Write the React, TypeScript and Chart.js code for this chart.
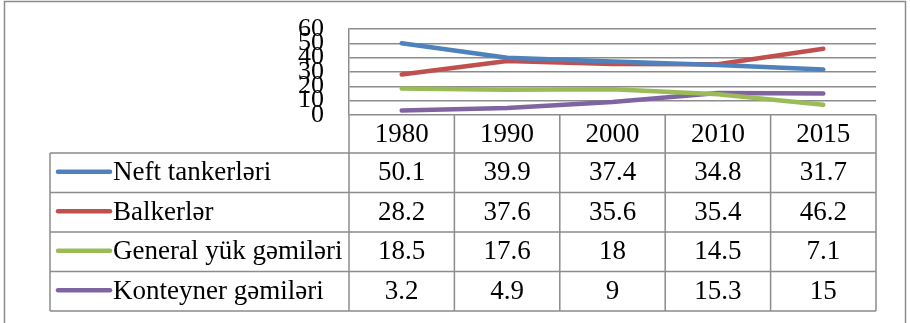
import React, { useEffect, useRef } from "react";
import { Chart, registerables } from "chart.js";

Chart.register(...registerables);

// Years along the horizontal axis
const years = ["1980", "1990", "2000", "2010", "2015"];

// Fleet share by ship type (%)
const neftTankerleri = [50.1, 39.9, 37.4, 34.8, 31.7];
const balkerler = [28.2, 37.6, 35.6, 35.4, 46.2];
const generalYuk = [18.5, 17.6, 18, 14.5, 7.1];
const konteyner = [3.2, 4.9, 9, 15.3, 15];

const seriesNames = [
  "Neft tankerləri",
  "Balkerlər",
  "General yük gəmiləri",
  "Konteyner gəmiləri",
];
const seriesValues = [neftTankerleri, balkerler, generalYuk, konteyner];
const seriesColors = ["#4F81BD", "#C0504D", "#9BBB59", "#8064A2"];

const yTicks = { min: 0, max: 60, step: 10 };

const FONT_FAMILY = "'Liberation Serif', 'Times New Roman', serif";
const FONT_SIZE = 27;
const LINE_GRAY = "#8c8c8c";

// Data table drawn under the plot, aligned to the category scale
const dataTablePlugin = {
  id: "dataTable",
  afterDraw(chart: any) {
    const { ctx, chartArea, scales } = chart;
    const x = scales.x;
    const n = years.length;
    const colW = (chartArea.right - chartArea.left) / n;
    const headerTop = chartArea.bottom;
    const headerBottom = headerTop + 38;
    const rowH = 39.5;
    const tableLeft = 50;
    const tableBottom = headerBottom + rowH * seriesNames.length;

    ctx.save();
    // outer frame
    ctx.strokeStyle = LINE_GRAY;
    ctx.lineWidth = 1.5;
    ctx.strokeRect(4.5, 1.5, 901, 340);

    // column separators through header and body
    ctx.beginPath();
    for (let i = 0; i <= n; i++) {
      const xx = chartArea.left + i * colW;
      ctx.moveTo(xx, headerTop);
      ctx.lineTo(xx, tableBottom);
    }
    // horizontal lines of body rows
    for (let r = 0; r <= seriesNames.length; r++) {
      const yy = headerBottom + r * rowH;
      ctx.moveTo(tableLeft, yy);
      ctx.lineTo(chartArea.right, yy);
    }
    ctx.moveTo(tableLeft, headerBottom);
    ctx.lineTo(tableLeft, tableBottom);
    ctx.stroke();

    ctx.fillStyle = "#000";
    ctx.font = `${FONT_SIZE}px ${FONT_FAMILY}`;
    ctx.textBaseline = "middle";

    // year labels
    ctx.textAlign = "center";
    years.forEach((yr, i) => {
      ctx.fillText(yr, x.getPixelForValue(i), (headerTop + headerBottom) / 2 + 1);
    });

    // body rows: legend key, name, values
    seriesNames.forEach((name, r) => {
      const cy = headerBottom + r * rowH + rowH / 2 + 0.5;
      ctx.strokeStyle = seriesColors[r];
      ctx.lineWidth = 4.5;
      ctx.lineCap = "round";
      ctx.beginPath();
      ctx.moveTo(58, cy - 1.5);
      ctx.lineTo(110, cy - 1.5);
      ctx.stroke();

      ctx.textAlign = "left";
      ctx.fillText(name, 113, cy);

      ctx.textAlign = "center";
      seriesValues[r].forEach((v, i) => {
        ctx.fillText(String(v), x.getPixelForValue(i), cy);
      });
    });
    ctx.restore();
  },
};

export default function App() {
  const canvasRef = useRef<HTMLCanvasElement | null>(null);

  useEffect(() => {
    const canvas = canvasRef.current;
    if (!canvas) return;
    const chart = new Chart(canvas, {
      type: "line",
      data: {
        labels: years,
        datasets: seriesNames.map((name, i) => ({
          label: name,
          data: seriesValues[i],
          borderColor: seriesColors[i],
          backgroundColor: seriesColors[i],
          borderWidth: 4.5,
          borderCapStyle: "round",
          borderJoinStyle: "round",
          pointRadius: 0,
          tension: 0,
        })),
      },
      options: {
        animation: false,
        responsive: false,
        layout: { padding: { left: 0, top: 29, right: 34, bottom: 208 } },
        plugins: {
          legend: { display: false },
          tooltip: { enabled: false },
        },
        scales: {
          x: { display: false, offset: true },
          y: {
            min: yTicks.min,
            max: yTicks.max,
            ticks: {
              stepSize: yTicks.step,
              autoSkip: false,
              padding: 25,
              color: "#000",
              font: { family: FONT_FAMILY, size: 26 },
            },
            grid: { color: LINE_GRAY, lineWidth: 1.5, drawTicks: false },
            border: { display: true, color: LINE_GRAY, width: 1.5 },
            afterFit: (s: any) => {
              s.width = 349;
              s.paddingTop = 0;
              s.paddingBottom = 0;
            },
          },
        },
      },
      plugins: [dataTablePlugin],
    } as any);
    return () => chart.destroy();
  }, []);

  return (
    <div style={{ position: "absolute", left: 0, top: 0, width: 910, height: 323, background: "#fff" }}>
      <canvas ref={canvasRef} width={910} height={323} style={{ display: "block" }} />
    </div>
  );
}
